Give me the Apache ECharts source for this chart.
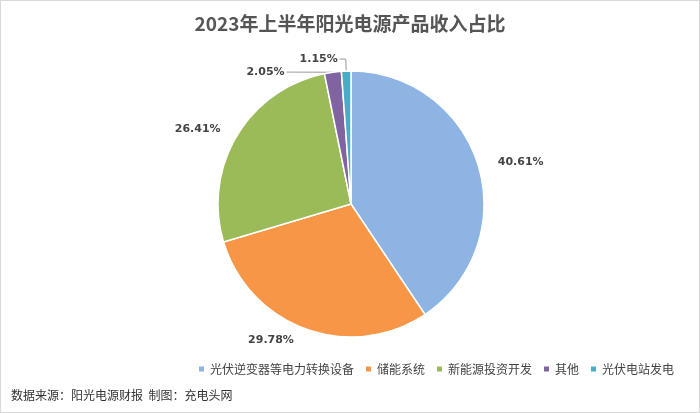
<!DOCTYPE html>
<html><head><meta charset="utf-8">
<script src="https://cdn.jsdelivr.net/npm/echarts@6/dist/echarts.min.js"></script>
<style>html,body{margin:0;padding:0;background:#fff}#c{width:700px;height:413px;box-sizing:border-box;border:1px solid #d9d9d9}</style>
</head><body><div id="c"></div>
<script>
const categories=['光伏逆变器等电力转换设备','储能系统','新能源投资开发','其他','光伏电站发电'];
const values=[40.61,29.78,26.41,2.05,1.15];
const colors=['#8EB4E3','#F79646','#9BBB59','#8064A2','#4BACC6'];
const chart=echarts.init(document.getElementById('c'));
chart.setOption({
  title:{text:'2023年上半年阳光电源产品收入占比',left:'center',top:8,textStyle:{fontFamily:'Noto Sans CJK SC',fontSize:19,fontWeight:'bold',color:'#555'}},
  graphic:[{type:'text',left:10,top:388,style:{text:'数据来源：阳光电源财报  制图：充电头网',font:'12px "Noto Sans CJK SC"',fill:'#333'}}],
  legend:{bottom:32,right:20,itemWidth:7,itemHeight:7,icon:'rect',itemGap:10,textStyle:{fontFamily:'Noto Sans CJK SC',fontSize:12,color:'#444'}},
  color:colors,
  series:[{type:'pie',center:[350,203],radius:133,startAngle:90,clockwise:true,
    itemStyle:{borderColor:'#fff',borderWidth:1.5},
    label:{formatter:p=>p.value.toFixed(2)+'%',fontFamily:'DejaVu Sans',fontSize:11,fontWeight:'bold',color:'#444',distanceToLabelLine:2},
    labelLine:{length:12,length2:6,lineStyle:{color:'#999'}},
    data:categories.map((n,i)=>({name:n,value:values[i],
      labelLine:{show:i>=3},
      label:i<3?{}:{}}))
  }]
});
</script></body></html>
